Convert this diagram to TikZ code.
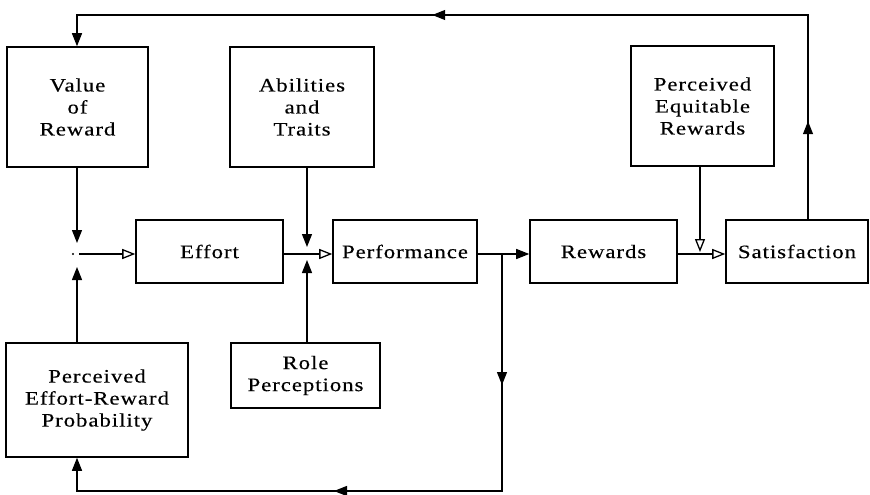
\documentclass[tikz,border=0pt]{standalone}
\usepackage{fontspec}
\setmainfont{Liberation Serif}[LetterSpace=5,FakeStretch=1.2,FakeBold=0.3]
\usetikzlibrary{arrows.meta,decorations.markings}

\tikzset{
  box/.style={draw, line width=1.6pt, align=center, inner sep=0pt},
  flow/.style={line width=1.3pt},
  tip/.style={-{Triangle[length=13pt,width=10pt]}},
  otip/.style={-{Triangle[open,length=13pt,width=10pt]}},
}

\begin{document}
\begin{tikzpicture}[x=1pt, y=-1pt, font=\fontsize{19}{22}\selectfont]
\useasboundingbox (0,0) rectangle (870,495);
% boxes
\node[box, minimum width=141pt, minimum height=120pt] (value) at (77.5,107) {Value\\of\\Reward};
\node[box, minimum width=144pt, minimum height=120pt] (abil) at (302,107) {Abilities\\and\\Traits};
\node[box, minimum width=143pt, minimum height=120pt] (equit) at (702.5,106) {Perceived\\Equitable\\Rewards};
\node[box, minimum width=147pt, minimum height=63pt] (effort) at (209.5,251.5) {Effort};
\node[box, minimum width=144pt, minimum height=63pt] (perf) at (405,251.5) {Performance};
\node[box, minimum width=147pt, minimum height=63pt] (rew) at (603.5,251.5) {Rewards};
\node[box, minimum width=142pt, minimum height=63pt] (sat) at (797,251.5) {Satisfaction};
\node[box, minimum width=182pt, minimum height=114pt] (prob) at (97,400) {Perceived\\Effort-Reward\\Probability};
\node[box, minimum width=149pt, minimum height=65pt] (role) at (305.5,375.5) {Role\\Perceptions};
% junctions
\coordinate (j1) at (77,254);
\coordinate (j2) at (307,254);
\coordinate (j3) at (502,254);
\coordinate (j4) at (700,254);
\fill ([xshift=-4pt]j1) circle (1.2pt);
% main line
\draw[flow, tip, shorten >=11pt] (value.south -| j1) -- (j1);
\draw[flow, tip, shorten >=13pt] (prob.north -| j1) -- (j1);
\draw[flow, otip, shorten <=2pt] (j1) -- (effort.west |- j1);
\draw[flow, otip] (effort.east |- j2) -- (perf.west |- j2);
\draw[flow, tip, shorten >=7pt] (abil.south -| j2) -- (j2);
\draw[flow, tip, shorten >=6pt] (role.north -| j2) -- (j2);
\draw[flow, tip] (perf.east |- j3) -- (rew.west |- j3);
\draw[flow, otip] (rew.east |- j4) -- (sat.west |- j4);
\draw[flow, otip, shorten >=2pt] (equit.south -| j4) -- (j4);
% feedback loops
\draw[flow, tip, postaction={decorate}, decoration={markings,
    mark=at position 98pt with {\arrow{Triangle[length=13pt,width=10pt]}},
    mark=at position 580pt with {\arrow{Triangle[length=13pt,width=10pt]}}}]
  (sat.north -| 808,0) -- (808,15) -- (77,15) -- (value.north -| 77,0);
\draw[flow, tip, postaction={decorate}, decoration={markings,
    mark=at position 131pt with {\arrow{Triangle[length=13pt,width=10pt]}},
    mark=at position 405pt with {\arrow{Triangle[length=13pt,width=10pt]}}}]
  (j3) -- (502,491) -- (77,491) -- (prob.south -| j1);
\end{tikzpicture}
\end{document}
